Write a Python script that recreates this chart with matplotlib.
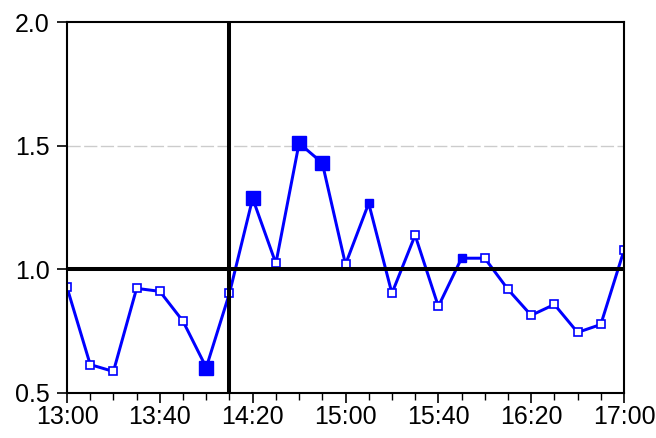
import matplotlib
matplotlib.use("Agg")
import matplotlib.pyplot as plt
import numpy as np

plt.rcParams['font.family'] = ['Liberation Sans', 'DejaVu Sans']

times = ["13:00", "13:10", "13:20", "13:30", "13:40", "13:50", "14:00", "14:10",
         "14:20", "14:30", "14:40", "14:50", "15:00", "15:10", "15:20", "15:30",
         "15:40", "15:50", "16:00", "16:10", "16:20", "16:30", "16:40", "16:50", "17:00"]
values = [0.927, 0.615, 0.587, 0.923, 0.911, 0.790, 0.603, 0.903,
          1.287, 1.024, 1.510, 1.430, 1.020, 1.267, 0.903, 1.138,
          0.850, 1.045, 1.045, 0.919, 0.814, 0.858, 0.745, 0.777, 1.077]
large_filled = ["14:00", "14:20", "14:40", "14:50"]
small_filled = ["15:10", "15:50"]
tick_labels = ["13:00", "13:40", "14:20", "15:00", "15:40", "16:20", "17:00"]
event_time = "14:10"
ref_level = 1.0

def to_min(t):
    h, m = t.split(":")
    return int(h) * 60 + int(m)

x = np.array([to_min(t) for t in times])
y = np.array(values)

fig = plt.figure(figsize=(6.56, 4.38), dpi=100)
ax = fig.add_axes([67/656, 1 - 393/438, (624-67)/656, (393-22)/438])

ax.axhline(1.5, color='#cccccc', lw=1.0, dashes=(9.5, 2.5), zorder=1)
ax.axhline(1.0, color='#cccccc', lw=1.0, dashes=(9.5, 2.5), zorder=1)

ax.plot(x, y, color='#0000ff', lw=2.15, zorder=3)
open_mask = np.array([t not in large_filled and t not in small_filled for t in times])
ax.plot(x[open_mask], y[open_mask], ls='none', marker='s', ms=5.1, mfc='white',
        mec='#0000ff', mew=1.2, zorder=4)
sm = np.array([t in small_filled for t in times])
ax.plot(x[sm], y[sm], ls='none', marker='s', ms=5.6, mfc='#0000ff',
        mec='#0000ff', mew=1, zorder=4)
lg = np.array([t in large_filled for t in times])
ax.plot(x[lg], y[lg], ls='none', marker='s', ms=9.6, mfc='#0000ff',
        mec='#0000ff', mew=1, zorder=4)

ax.axhline(ref_level, color='black', lw=2.9, zorder=5)
ax.axvline(to_min(event_time), color='black', lw=2.9, zorder=5)

ax.set_xlim(x[0], x[-1])
ax.set_ylim(0.5, 2.0)
ax.set_yticks([0.5, 1.0, 1.5, 2.0])
ax.set_yticklabels(["0.5", "1.0", "1.5", "2.0"])
ax.set_xticks([to_min(t) for t in tick_labels])
ax.set_xticklabels(tick_labels)
ax.set_xticks(x, minor=True)
ax.tick_params(axis='both', which='major', direction='out', length=7.5, width=1.2,
               labelsize=18, colors='black')
ax.tick_params(axis='x', which='minor', direction='out', length=5, width=1.0)
ax.tick_params(axis='y', which='major', pad=5)
ax.tick_params(axis='x', which='major', pad=1)
for s in ax.spines.values():
    s.set_linewidth(1.5)
    s.set_color('black')
    s.set_zorder(6)

fig.savefig("out.png", dpi=100)
